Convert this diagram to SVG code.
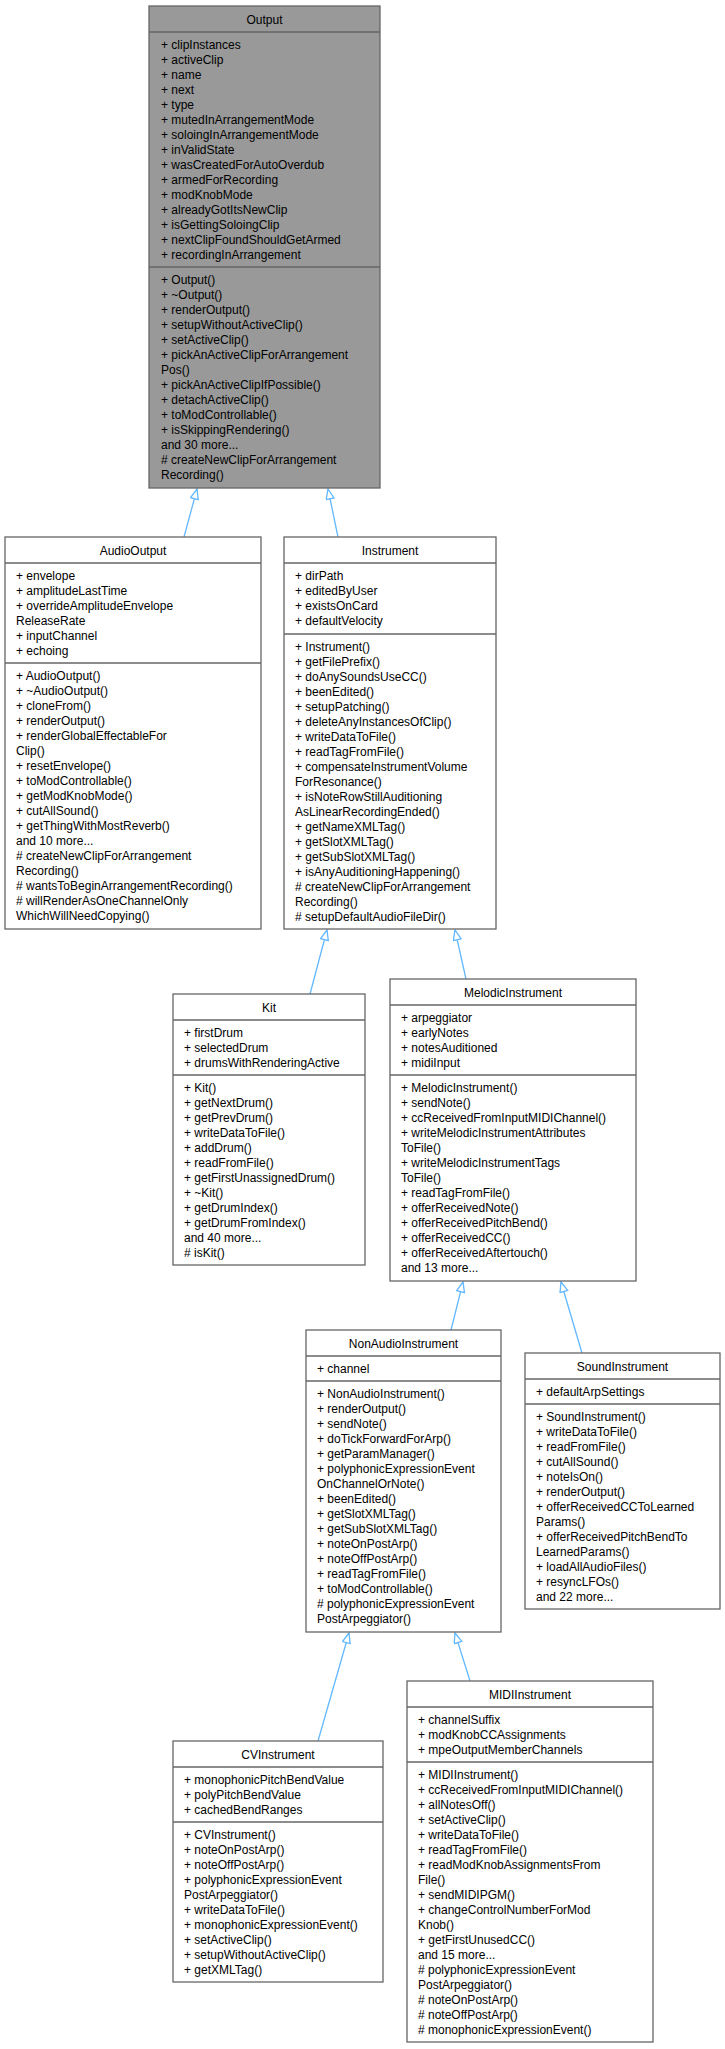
<svg xmlns="http://www.w3.org/2000/svg" width="725" height="2049" viewBox="0 0 725 2049">
<style>
text{font-family:"Liberation Sans",Arial,sans-serif;font-size:12px;fill:#000}
.t{text-anchor:middle}
rect{stroke:#666;stroke-width:1.3;fill:#fff}
rect.g{fill:#999}
rect.bg{stroke:none}
line.s{stroke:#666;stroke-width:1.3}
.e line{stroke:#63b8ff;stroke-width:1.3}
</style>
<defs>
<marker id="a" markerUnits="userSpaceOnUse" markerWidth="14" markerHeight="12" refX="11" refY="4.5" orient="auto">
<path d="M1,0.5 L11,4.5 L1,8.5 Z" fill="#fff" stroke="#63b8ff" stroke-width="1.3"/>
</marker>
</defs>
<rect class="bg" x="0" y="0" width="725" height="2049"/>
<g class="e">
<line x1="184" y1="537" x2="197" y2="489" marker-end="url(#a)"/>
<line x1="338" y1="537" x2="328" y2="489" marker-end="url(#a)"/>
<line x1="310" y1="994" x2="327" y2="930" marker-end="url(#a)"/>
<line x1="466" y1="979" x2="455" y2="930" marker-end="url(#a)"/>
<line x1="451" y1="1330" x2="463" y2="1282" marker-end="url(#a)"/>
<line x1="582" y1="1353" x2="561" y2="1282" marker-end="url(#a)"/>
<line x1="318" y1="1741" x2="349" y2="1633" marker-end="url(#a)"/>
<line x1="470" y1="1681" x2="455" y2="1633" marker-end="url(#a)"/>
</g>
<g id="Output">
<rect class="g" x="149" y="6" width="231" height="482"/>
<line class="s" x1="149" y1="32" x2="380" y2="32"/><line class="s" x1="149" y1="267" x2="380" y2="267"/>
<text class="t" x="264.5" y="24">Output</text>
<text y="49"><tspan x="161">+ clipInstances</tspan><tspan x="161" dy="15">+ activeClip</tspan><tspan x="161" dy="15">+ name</tspan><tspan x="161" dy="15">+ next</tspan><tspan x="161" dy="15">+ type</tspan><tspan x="161" dy="15">+ mutedInArrangementMode</tspan><tspan x="161" dy="15">+ soloingInArrangementMode</tspan><tspan x="161" dy="15">+ inValidState</tspan><tspan x="161" dy="15">+ wasCreatedForAutoOverdub</tspan><tspan x="161" dy="15">+ armedForRecording</tspan><tspan x="161" dy="15">+ modKnobMode</tspan><tspan x="161" dy="15">+ alreadyGotItsNewClip</tspan><tspan x="161" dy="15">+ isGettingSoloingClip</tspan><tspan x="161" dy="15">+ nextClipFoundShouldGetArmed</tspan><tspan x="161" dy="15">+ recordingInArrangement</tspan></text>
<text y="284"><tspan x="161">+ Output()</tspan><tspan x="161" dy="15">+ ~Output()</tspan><tspan x="161" dy="15">+ renderOutput()</tspan><tspan x="161" dy="15">+ setupWithoutActiveClip()</tspan><tspan x="161" dy="15">+ setActiveClip()</tspan><tspan x="161" dy="15">+ pickAnActiveClipForArrangement</tspan><tspan x="161" dy="15">Pos()</tspan><tspan x="161" dy="15">+ pickAnActiveClipIfPossible()</tspan><tspan x="161" dy="15">+ detachActiveClip()</tspan><tspan x="161" dy="15">+ toModControllable()</tspan><tspan x="161" dy="15">+ isSkippingRendering()</tspan><tspan x="161" dy="15">and 30 more...</tspan><tspan x="161" dy="15"># createNewClipForArrangement</tspan><tspan x="161" dy="15">Recording()</tspan></text>
</g>
<g id="AudioOutput">
<rect x="5" y="537" width="256" height="392"/>
<line class="s" x1="5" y1="563" x2="261" y2="563"/><line class="s" x1="5" y1="663" x2="261" y2="663"/>
<text class="t" x="133" y="555">AudioOutput</text>
<text y="580"><tspan x="16">+ envelope</tspan><tspan x="16" dy="15">+ amplitudeLastTime</tspan><tspan x="16" dy="15">+ overrideAmplitudeEnvelope</tspan><tspan x="16" dy="15">ReleaseRate</tspan><tspan x="16" dy="15">+ inputChannel</tspan><tspan x="16" dy="15">+ echoing</tspan></text>
<text y="680"><tspan x="16">+ AudioOutput()</tspan><tspan x="16" dy="15">+ ~AudioOutput()</tspan><tspan x="16" dy="15">+ cloneFrom()</tspan><tspan x="16" dy="15">+ renderOutput()</tspan><tspan x="16" dy="15">+ renderGlobalEffectableFor</tspan><tspan x="16" dy="15">Clip()</tspan><tspan x="16" dy="15">+ resetEnvelope()</tspan><tspan x="16" dy="15">+ toModControllable()</tspan><tspan x="16" dy="15">+ getModKnobMode()</tspan><tspan x="16" dy="15">+ cutAllSound()</tspan><tspan x="16" dy="15">+ getThingWithMostReverb()</tspan><tspan x="16" dy="15">and 10 more...</tspan><tspan x="16" dy="15"># createNewClipForArrangement</tspan><tspan x="16" dy="15">Recording()</tspan><tspan x="16" dy="15"># wantsToBeginArrangementRecording()</tspan><tspan x="16" dy="15"># willRenderAsOneChannelOnly</tspan><tspan x="16" dy="15">WhichWillNeedCopying()</tspan></text>
</g>
<g id="Instrument">
<rect x="284" y="537" width="212" height="392"/>
<line class="s" x1="284" y1="563" x2="496" y2="563"/><line class="s" x1="284" y1="634" x2="496" y2="634"/>
<text class="t" x="390" y="555">Instrument</text>
<text y="580"><tspan x="295">+ dirPath</tspan><tspan x="295" dy="15">+ editedByUser</tspan><tspan x="295" dy="15">+ existsOnCard</tspan><tspan x="295" dy="15">+ defaultVelocity</tspan></text>
<text y="651"><tspan x="295">+ Instrument()</tspan><tspan x="295" dy="15">+ getFilePrefix()</tspan><tspan x="295" dy="15">+ doAnySoundsUseCC()</tspan><tspan x="295" dy="15">+ beenEdited()</tspan><tspan x="295" dy="15">+ setupPatching()</tspan><tspan x="295" dy="15">+ deleteAnyInstancesOfClip()</tspan><tspan x="295" dy="15">+ writeDataToFile()</tspan><tspan x="295" dy="15">+ readTagFromFile()</tspan><tspan x="295" dy="15">+ compensateInstrumentVolume</tspan><tspan x="295" dy="15">ForResonance()</tspan><tspan x="295" dy="15">+ isNoteRowStillAuditioning</tspan><tspan x="295" dy="15">AsLinearRecordingEnded()</tspan><tspan x="295" dy="15">+ getNameXMLTag()</tspan><tspan x="295" dy="15">+ getSlotXMLTag()</tspan><tspan x="295" dy="15">+ getSubSlotXMLTag()</tspan><tspan x="295" dy="15">+ isAnyAuditioningHappening()</tspan><tspan x="295" dy="15"># createNewClipForArrangement</tspan><tspan x="295" dy="15">Recording()</tspan><tspan x="295" dy="15"># setupDefaultAudioFileDir()</tspan></text>
</g>
<g id="Kit">
<rect x="173" y="994" width="192" height="271"/>
<line class="s" x1="173" y1="1020" x2="365" y2="1020"/><line class="s" x1="173" y1="1075" x2="365" y2="1075"/>
<text class="t" x="269" y="1012">Kit</text>
<text y="1037"><tspan x="184">+ firstDrum</tspan><tspan x="184" dy="15">+ selectedDrum</tspan><tspan x="184" dy="15">+ drumsWithRenderingActive</tspan></text>
<text y="1092"><tspan x="184">+ Kit()</tspan><tspan x="184" dy="15">+ getNextDrum()</tspan><tspan x="184" dy="15">+ getPrevDrum()</tspan><tspan x="184" dy="15">+ writeDataToFile()</tspan><tspan x="184" dy="15">+ addDrum()</tspan><tspan x="184" dy="15">+ readFromFile()</tspan><tspan x="184" dy="15">+ getFirstUnassignedDrum()</tspan><tspan x="184" dy="15">+ ~Kit()</tspan><tspan x="184" dy="15">+ getDrumIndex()</tspan><tspan x="184" dy="15">+ getDrumFromIndex()</tspan><tspan x="184" dy="15">and 40 more...</tspan><tspan x="184" dy="15"># isKit()</tspan></text>
</g>
<g id="MelodicInstrument">
<rect x="390" y="979" width="246" height="302"/>
<line class="s" x1="390" y1="1005" x2="636" y2="1005"/><line class="s" x1="390" y1="1075" x2="636" y2="1075"/>
<text class="t" x="513" y="997">MelodicInstrument</text>
<text y="1022"><tspan x="401">+ arpeggiator</tspan><tspan x="401" dy="15">+ earlyNotes</tspan><tspan x="401" dy="15">+ notesAuditioned</tspan><tspan x="401" dy="15">+ midiInput</tspan></text>
<text y="1092"><tspan x="401">+ MelodicInstrument()</tspan><tspan x="401" dy="15">+ sendNote()</tspan><tspan x="401" dy="15">+ ccReceivedFromInputMIDIChannel()</tspan><tspan x="401" dy="15">+ writeMelodicInstrumentAttributes</tspan><tspan x="401" dy="15">ToFile()</tspan><tspan x="401" dy="15">+ writeMelodicInstrumentTags</tspan><tspan x="401" dy="15">ToFile()</tspan><tspan x="401" dy="15">+ readTagFromFile()</tspan><tspan x="401" dy="15">+ offerReceivedNote()</tspan><tspan x="401" dy="15">+ offerReceivedPitchBend()</tspan><tspan x="401" dy="15">+ offerReceivedCC()</tspan><tspan x="401" dy="15">+ offerReceivedAftertouch()</tspan><tspan x="401" dy="15">and 13 more...</tspan></text>
</g>
<g id="NonAudioInstrument">
<rect x="306" y="1330" width="195" height="302"/>
<line class="s" x1="306" y1="1356" x2="501" y2="1356"/><line class="s" x1="306" y1="1381" x2="501" y2="1381"/>
<text class="t" x="403.5" y="1348">NonAudioInstrument</text>
<text y="1373"><tspan x="317">+ channel</tspan></text>
<text y="1398"><tspan x="317">+ NonAudioInstrument()</tspan><tspan x="317" dy="15">+ renderOutput()</tspan><tspan x="317" dy="15">+ sendNote()</tspan><tspan x="317" dy="15">+ doTickForwardForArp()</tspan><tspan x="317" dy="15">+ getParamManager()</tspan><tspan x="317" dy="15">+ polyphonicExpressionEvent</tspan><tspan x="317" dy="15">OnChannelOrNote()</tspan><tspan x="317" dy="15">+ beenEdited()</tspan><tspan x="317" dy="15">+ getSlotXMLTag()</tspan><tspan x="317" dy="15">+ getSubSlotXMLTag()</tspan><tspan x="317" dy="15">+ noteOnPostArp()</tspan><tspan x="317" dy="15">+ noteOffPostArp()</tspan><tspan x="317" dy="15">+ readTagFromFile()</tspan><tspan x="317" dy="15">+ toModControllable()</tspan><tspan x="317" dy="15"># polyphonicExpressionEvent</tspan><tspan x="317" dy="15">PostArpeggiator()</tspan></text>
</g>
<g id="SoundInstrument">
<rect x="525" y="1353" width="195" height="256"/>
<line class="s" x1="525" y1="1379" x2="720" y2="1379"/><line class="s" x1="525" y1="1404" x2="720" y2="1404"/>
<text class="t" x="622.5" y="1371">SoundInstrument</text>
<text y="1396"><tspan x="536">+ defaultArpSettings</tspan></text>
<text y="1421"><tspan x="536">+ SoundInstrument()</tspan><tspan x="536" dy="15">+ writeDataToFile()</tspan><tspan x="536" dy="15">+ readFromFile()</tspan><tspan x="536" dy="15">+ cutAllSound()</tspan><tspan x="536" dy="15">+ noteIsOn()</tspan><tspan x="536" dy="15">+ renderOutput()</tspan><tspan x="536" dy="15">+ offerReceivedCCToLearned</tspan><tspan x="536" dy="15">Params()</tspan><tspan x="536" dy="15">+ offerReceivedPitchBendTo</tspan><tspan x="536" dy="15">LearnedParams()</tspan><tspan x="536" dy="15">+ loadAllAudioFiles()</tspan><tspan x="536" dy="15">+ resyncLFOs()</tspan><tspan x="536" dy="15">and 22 more...</tspan></text>
</g>
<g id="CVInstrument">
<rect x="173" y="1741" width="210" height="241"/>
<line class="s" x1="173" y1="1767" x2="383" y2="1767"/><line class="s" x1="173" y1="1822" x2="383" y2="1822"/>
<text class="t" x="278" y="1759">CVInstrument</text>
<text y="1784"><tspan x="184">+ monophonicPitchBendValue</tspan><tspan x="184" dy="15">+ polyPitchBendValue</tspan><tspan x="184" dy="15">+ cachedBendRanges</tspan></text>
<text y="1839"><tspan x="184">+ CVInstrument()</tspan><tspan x="184" dy="15">+ noteOnPostArp()</tspan><tspan x="184" dy="15">+ noteOffPostArp()</tspan><tspan x="184" dy="15">+ polyphonicExpressionEvent</tspan><tspan x="184" dy="15">PostArpeggiator()</tspan><tspan x="184" dy="15">+ writeDataToFile()</tspan><tspan x="184" dy="15">+ monophonicExpressionEvent()</tspan><tspan x="184" dy="15">+ setActiveClip()</tspan><tspan x="184" dy="15">+ setupWithoutActiveClip()</tspan><tspan x="184" dy="15">+ getXMLTag()</tspan></text>
</g>
<g id="MIDIInstrument">
<rect x="407" y="1681" width="246" height="361"/>
<line class="s" x1="407" y1="1707" x2="653" y2="1707"/><line class="s" x1="407" y1="1762" x2="653" y2="1762"/>
<text class="t" x="530" y="1699">MIDIInstrument</text>
<text y="1724"><tspan x="418">+ channelSuffix</tspan><tspan x="418" dy="15">+ modKnobCCAssignments</tspan><tspan x="418" dy="15">+ mpeOutputMemberChannels</tspan></text>
<text y="1779"><tspan x="418">+ MIDIInstrument()</tspan><tspan x="418" dy="15">+ ccReceivedFromInputMIDIChannel()</tspan><tspan x="418" dy="15">+ allNotesOff()</tspan><tspan x="418" dy="15">+ setActiveClip()</tspan><tspan x="418" dy="15">+ writeDataToFile()</tspan><tspan x="418" dy="15">+ readTagFromFile()</tspan><tspan x="418" dy="15">+ readModKnobAssignmentsFrom</tspan><tspan x="418" dy="15">File()</tspan><tspan x="418" dy="15">+ sendMIDIPGM()</tspan><tspan x="418" dy="15">+ changeControlNumberForMod</tspan><tspan x="418" dy="15">Knob()</tspan><tspan x="418" dy="15">+ getFirstUnusedCC()</tspan><tspan x="418" dy="15">and 15 more...</tspan><tspan x="418" dy="15"># polyphonicExpressionEvent</tspan><tspan x="418" dy="15">PostArpeggiator()</tspan><tspan x="418" dy="15"># noteOnPostArp()</tspan><tspan x="418" dy="15"># noteOffPostArp()</tspan><tspan x="418" dy="15"># monophonicExpressionEvent()</tspan></text>
</g>
</svg>
